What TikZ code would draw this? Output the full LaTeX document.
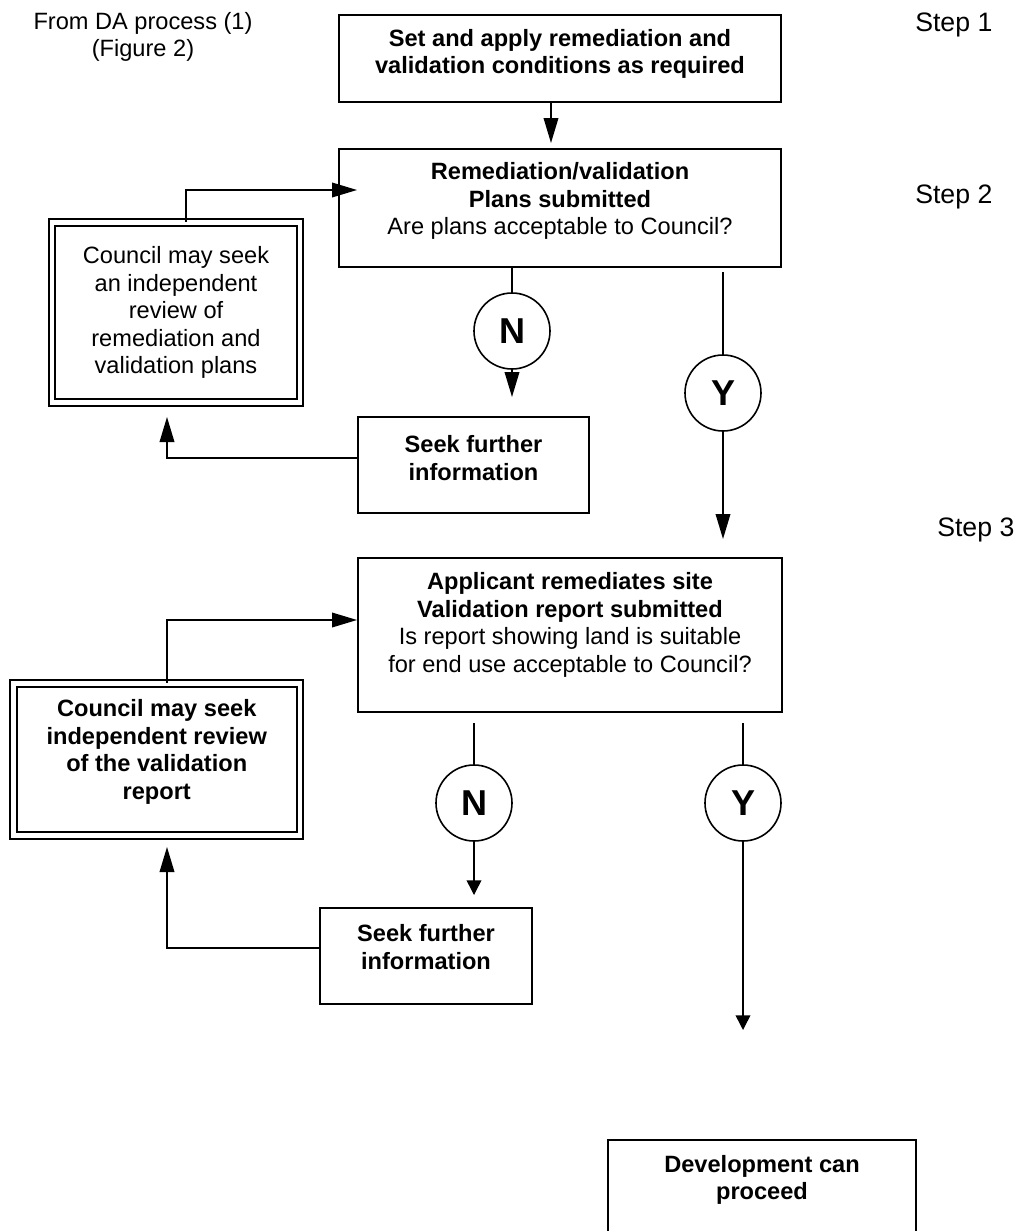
\documentclass[tikz,border=0pt]{standalone}
\usepackage{fontspec}
\setmainfont{Liberation Sans}
\usetikzlibrary{arrows.meta}
\newcommand\dpt[1]{\rule[-#1]{0pt}{#1}}
\newcommand\txtfont{\fontsize{17.7}{20.6}\selectfont}
\begin{document}
\begin{tikzpicture}[x=0.75pt,y=-0.75pt,
  box/.style={draw,line width=1.5pt,inner sep=0pt,align=center,font=\txtfont},
  dbox/.style={box,double,double distance=3.2pt,line width=1.5pt},
  yn/.style={draw,circle,line width=1.2pt,minimum size=57pt,inner sep=0pt,font=\fontsize{27}{30}\selectfont\bfseries},
  conn/.style={line width=1.1pt},
  arr/.style={conn,-{Triangle[length=18.75pt,width=11pt]}},
  sarr/.style={conn,-{Triangle[length=11pt,width=11pt]}},
  lbl/.style={align=center,font=\txtfont},
  steplbl/.style={anchor=base west,inner sep=0pt,font=\fontsize{20}{24}\selectfont}]
\clip (0,0) rectangle (1024,1231);

% labels
\node[lbl] (from) at (143,37) {From DA process (1)\\(Figure 2)};
\node[steplbl] (st1) at (915,32) {Step 1};
\node[steplbl] (st2) at (915,203) {Step 2};
\node[steplbl] (st3) at (937,536) {Step 3};

% boxes
\node[box,minimum width=331.5pt,minimum height=65.25pt] (b1) at (560,58.5)
  {\textbf{Set and apply remediation and}\\\textbf{validation conditions as required}\dpt{10.5pt}};
\node[box,minimum width=331.5pt,minimum height=88.5pt] (b2) at (560,208)
  {\textbf{Remediation/validation}\\\textbf{Plans submitted}\\Are plans acceptable to Council?\dpt{14.25pt}};
\node[dbox,minimum width=185.6pt,minimum height=135pt] (db1) at (176,312.5)
  {Council may seek\\an independent\\review of\\remediation and\\validation plans};
\node[box,minimum width=173.25pt,minimum height=72pt] (s1) at (473.5,465)
  {\textbf{Seek further}\\\textbf{information}\dpt{10.5pt}};
\node[yn] (n1) at (512,331) {N};
\node[yn] (y1) at (723,393) {Y};

\node[box,minimum width=318pt,minimum height=115.5pt] (b3) at (570,635)
  {\textbf{Applicant remediates site}\\\textbf{Validation report submitted}\\Is report showing land is suitable\\for end use acceptable to Council?\dpt{18.75pt}};
\node[dbox,minimum width=214.9pt,minimum height=114pt] (db2) at (156.75,759.5)
  {\textbf{Council may seek}\\\textbf{independent review}\\\textbf{of the validation}\\\textbf{report}\dpt{15pt}};
\node[yn] (n2) at (474,803) {N};
\node[yn] (y2) at (743,803) {Y};
\node[box,minimum width=159pt,minimum height=72pt] (s2) at (426,956)
  {\textbf{Seek further}\\\textbf{information}\dpt{13.5pt}};
\node[box,minimum width=231pt,minimum height=82.5pt] (dev) at (762,1195)
  {\textbf{Development can}\\\textbf{proceed}\dpt{26.25pt}};

% connectors
\coordinate (t1) at (551,143);
\draw[arr] (b1.south -| t1) -- (t1);
\coordinate (t2) at (357,190);
\draw[arr] ([xshift=7.5pt]db1.north) |- (t2);
\draw[conn] (b2.south -| n1) -- (n1);
\coordinate (t3) at (512,397);
\draw[arr] (n1) -- (t3);
\coordinate (c4) at (723,272);
\draw[conn] (c4) -- (y1);
\coordinate (t4) at (723,539);
\draw[arr] (y1) -- (t4);
\coordinate (t5) at (167,417);
\draw[arr] ([yshift=5.25pt]s1.west) -| (t5);
\coordinate (t6) at (357,620);
\draw[arr] ([xshift=7.7pt]db2.north) |- (t6);
\coordinate (c7) at (474,723);
\draw[conn] (c7) -- (n2);
\coordinate (t7) at (474,895);
\draw[sarr] (n2) -- (t7);
\coordinate (c8) at (743,723);
\draw[conn] (c8) -- (y2);
\coordinate (t8) at (743,1030);
\draw[sarr] (y2) -- (t8);
\coordinate (t9) at (167,847);
\draw[arr] ([yshift=6pt]s2.west) -| (t9);
\end{tikzpicture}
\end{document}
